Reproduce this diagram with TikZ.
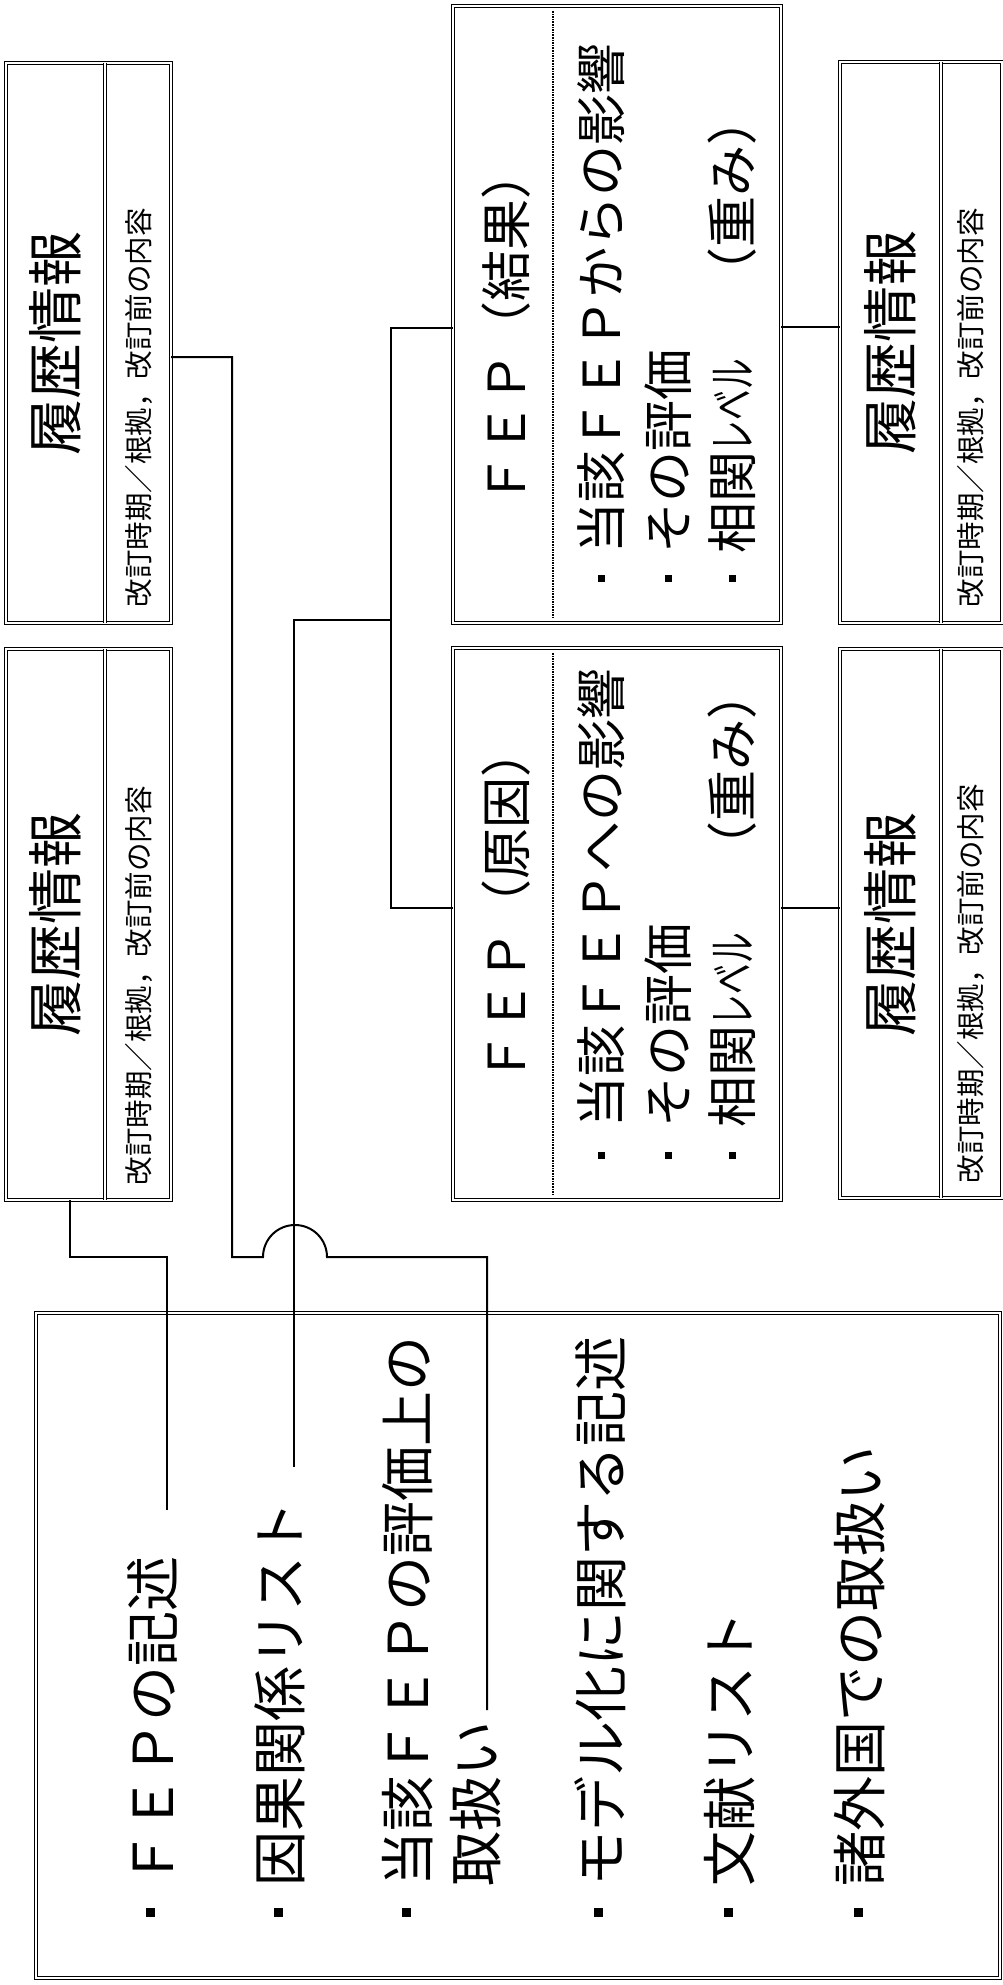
\documentclass[tikz,border=0pt]{standalone}
\usepackage{graphicx}
\usepackage{fontspec}
\setmainfont{Noto Sans CJK JP}
\newcommand{\lvlw}{相関\scalebox{0.6}[1]{レベル}\hspace{61pt}（重み）}
\begin{document}
\begin{tikzpicture}[x=1pt,y=-1pt,
  dbl/.style={draw, double, double distance=2.2pt, line width=1.1pt},
  box/.style={dbl, rectangle, inner sep=0pt, outer sep=0pt},
  conn/.style={line width=2pt, line join=miter},
  vt/.style={rotate=90, inner sep=0pt, outer sep=0pt},
  fbig/.style={font=\fontsize{55}{60}\selectfont},
  fmid/.style={font=\fontsize{51}{56}\selectfont},
  fttl/.style={font=\fontsize{56}{60}\selectfont},
  fsml/.style={font=\fontsize{28.5}{32}\selectfont},
  bl/.style={fill, draw=none, inner sep=0pt, minimum size=9pt},
  sbl/.style={fill, draw=none, inner sep=0pt, minimum size=7pt}]
\fill[white] (0,0) rectangle (1003,1985);
\useasboundingbox (0,0) rectangle (1003,1985);

% ---------- boxes ----------
\node[box, minimum width=165pt, minimum height=560pt] (h1) at (88.5,343) {};
\node[box, minimum width=165pt, minimum height=551pt] (h2) at (88.5,924.5) {};
\node[box, minimum width=162pt, minimum height=561pt] (h3) at (921,342.5) {};
\node[box, minimum width=162pt, minimum height=549pt] (h4) at (921,923.5) {};
\node[box, minimum width=328pt, minimum height=617pt] (fr) at (617,314.5) {};
\node[box, minimum width=328pt, minimum height=552pt] (fc) at (617,924) {};
\node[box, minimum width=964pt, minimum height=665pt] (mb) at (518,1645.5) {};

% dividers
\draw[dbl] ([xshift=99pt]h1.north west) -- ([xshift=99pt]h1.south west);
\draw[dbl] ([xshift=99pt]h2.north west) -- ([xshift=99pt]h2.south west);
\draw[dbl] ([xshift=101pt]h3.north west) -- ([xshift=101pt]h3.south west);
\draw[dbl] ([xshift=101pt]h4.north west) -- ([xshift=101pt]h4.south west);
\draw[line width=1.6pt, densely dotted] ([xshift=100pt,yshift=-5pt]fr.north west) -- ([xshift=100pt,yshift=5pt]fr.south west);
\draw[line width=1.6pt, densely dotted] ([xshift=100pt,yshift=-5pt]fc.north west) -- ([xshift=100pt,yshift=5pt]fc.south west);

% ---------- history texts ----------
\node[vt, fttl] (h1t) at (55,343) {履歴情報};
\node[vt, fsml, anchor=west] (h1s) at (139,607) {改訂時期／根拠，改訂前の内容};
\node[vt, fttl] (h2t) at (55,924) {履歴情報};
\node[vt, fsml, anchor=west] (h2s) at (139,1185) {改訂時期／根拠，改訂前の内容};
\node[vt, fttl] (h3t) at (890,342) {履歴情報};
\node[vt, fsml, anchor=west] (h3s) at (971,607) {改訂時期／根拠，改訂前の内容};
\node[vt, fttl] (h4t) at (890,924) {履歴情報};
\node[vt, fsml, anchor=west] (h4s) at (971,1183) {改訂時期／根拠，改訂前の内容};

% ---------- FEP (result) ----------
\node[vt, fmid] (frt) at (506,327) {ＦＥＰ（結果）};
\node[sbl] (frb1) at (601,578) {};
\node[sbl] (frb2) at (668,578) {};
\node[sbl] (frb3) at (732,578) {};
\node[vt, fmid, anchor=west] (fri1) at (601,553) {当該ＦＥＰからの影響};
\node[vt, fmid, anchor=west] (fri2) at (668,553) {その評価};
\node[vt, fmid, anchor=west] (fri3) at (732,553) {\lvlw};

% ---------- FEP (cause) ----------
\node[vt, fmid] (fct) at (506,905) {ＦＥＰ（原因）};
\node[sbl] (fcb1) at (601,1155) {};
\node[sbl] (fcb2) at (668,1155) {};
\node[sbl] (fcb3) at (732,1155) {};
\node[vt, fmid, anchor=west] (fci1) at (601,1127) {当該ＦＥＰへの影響};
\node[vt, fmid, anchor=west] (fci2) at (668,1127) {その評価};
\node[vt, fmid, anchor=west] (fci3) at (732,1127) {\lvlw};

% ---------- main box items ----------
\node[bl] (mb1) at (150,1912) {};
\node[bl] (mb2) at (278,1912) {};
\node[bl] (mb3) at (406,1912) {};
\node[bl] (mb4) at (598,1912) {};
\node[bl] (mb5) at (728,1912) {};
\node[bl] (mb6) at (858,1912) {};
\node[vt, fbig, anchor=west] (m1) at (152,1886) {ＦＥＰの記述};
\node[vt, fbig, anchor=west] (m2) at (280,1886) {因果関係リスト};
\node[vt, fbig, anchor=west] (m3) at (408,1886) {当該ＦＥＰの評価上の};
\node[vt, fbig, anchor=west] (m3b) at (476,1886) {取扱い};
\node[vt, fbig, anchor=west] (m4) at (600,1886) {モデル化に関する記述};
\node[vt, fbig, anchor=west] (m5) at (730,1886) {文献リスト};
\node[vt, fbig, anchor=west] (m6) at (860,1886) {諸外国での取扱い};

% ---------- connectors ----------
\coordinate (e1) at (487,1710);
\coordinate (e2) at (167,1510);
\coordinate (e3) at (294,1467);
\coordinate (j) at (391,620);

\draw[conn] (h1.east |- 0,357) -| (232,1257) -- (263,1257)
  .. controls (263,1239.3) and (277.3,1225) .. (295,1225)
  .. controls (312.7,1225) and (327,1239.3) .. (327,1257)
  -- (487,1257) -- (e1);
\draw[conn] (h2.south -| 70,0) -- (70,1257) -| (e2);
\draw[conn] (fr.west |- 0,328) -| (j) |- (fc.west |- 0,908);
\draw[conn] (j) -| (e3);
\draw[conn] (fr.east |- 0,327) -- (h3.west |- 0,327);
\draw[conn] (fc.east |- 0,908) -- (h4.west |- 0,908);
\end{tikzpicture}
\end{document}
